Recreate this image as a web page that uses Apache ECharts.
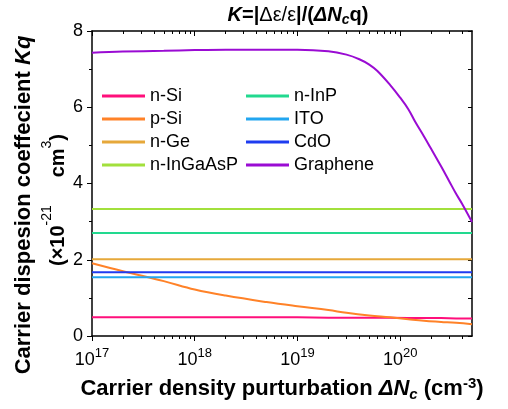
<!DOCTYPE html>
<html>
<head>
<meta charset="utf-8">
<script src="https://cdn.jsdelivr.net/npm/echarts@6/dist/echarts.min.js"></script>
<style>
  html, body { margin: 0; padding: 0; background: #fff; }
  #main { width: 508px; height: 409px; }
</style>
</head>
<body>
<div id="main"></div>
<script>
// carrier density (cm^-3) samples
const density = [1e17, 2e17, 5e17, 1e18, 2e18, 5e18, 1e19, 2e19, 3e19, 5e19, 8e19, 1.2e20, 1.7e20, 2.5e20, 3.5e20, 5e20];
const pSi = [1.91, 1.70, 1.44, 1.22, 1.06, 0.89, 0.78, 0.68, 0.61, 0.54, 0.49, 0.44, 0.40, 0.37, 0.345, 0.31];
const nSi = [0.49, 0.49, 0.49, 0.49, 0.49, 0.49, 0.49, 0.48, 0.48, 0.48, 0.48, 0.47, 0.47, 0.47, 0.46, 0.46];
// graphene needs more samples in the roll-off
const grapheneDensity = [1e17, 2e17, 5e17, 1e18, 2e18, 5e18, 1e19, 2e19, 3e19, 4e19, 5e19, 6e19, 8e19, 1e20, 1.2e20, 1.4e20, 1.7e20, 2e20, 2.5e20, 3e20, 3.5e20, 4e20, 5e20];
const graphene = [7.43, 7.46, 7.48, 7.50, 7.51, 7.51, 7.51, 7.47, 7.38, 7.26, 7.12, 6.95, 6.58, 6.25, 5.95, 5.62, 5.24, 4.91, 4.45, 4.06, 3.73, 3.47, 2.99];
// flat lines: value at both ends
const ends = [1e17, 5e20];
const nGe = [2.01, 2.01];
const nInGaAsP = [3.33, 3.33];
const nInP = [2.70, 2.70];
const ito = [1.54, 1.54];
const cdo = [1.67, 1.67];

const majorTicks = [1e17, 1e18, 1e19, 1e20];
const minorTicks = [];
majorTicks.forEach(function (d) {
  for (let k = 2; k <= 9; k++) {
    if (k * d <= 5e20) minorTicks.push(k * d);
  }
});

const FONT = '"Liberation Sans", Arial, sans-serif';

function pairs(xs, ys) {
  return xs.map(function (x, i) { return [x, ys[i]]; });
}

const chart = echarts.init(document.getElementById('main'), null, { renderer: 'canvas' });

function line(name, color, xs, ys, smooth) {
  return {
    name: name,
    type: 'line',
    data: pairs(xs, ys),
    smooth: smooth ? 0.4 : false,
    showSymbol: false,
    symbol: 'none',
    lineStyle: { color: color, width: 2 },
    itemStyle: { color: color },
    xAxisIndex: 0,
    yAxisIndex: 0
  };
}

function logAxis(pos, ticks, len, inside, extra) {
  return Object.assign({
    type: 'log',
    logBase: 10,
    position: pos,
    min: 1e17,
    max: 5e20,
    splitLine: { show: false },
    axisLine: { show: true, lineStyle: { color: '#000', width: 1.5 } },
    axisTick: { show: true, inside: inside, length: len, customValues: ticks, lineStyle: { color: '#000', width: 1 } },
    axisLabel: { show: false }
  }, extra || {});
}

const legendText = { fontFamily: FONT, fontSize: 18, color: '#000' };

const option = {
  animation: false,
  backgroundColor: '#fff',
  grid: { left: 92, right: 36, top: 31, bottom: 73 },
  legend: [
    {
      data: ['n-Si', 'p-Si', 'n-Ge', 'n-InGaAsP'],
      orient: 'vertical', left: 97, top: 82, itemGap: 5,
      itemWidth: 43, itemHeight: 3, icon: 'rect',
      textStyle: legendText
    },
    {
      data: ['n-InP', 'ITO', 'CdO', 'Graphene'],
      orient: 'vertical', left: 241, top: 82, itemGap: 5,
      itemWidth: 43, itemHeight: 3, icon: 'rect',
      textStyle: legendText
    }
  ],
  xAxis: [
    logAxis('bottom', majorTicks, 5, false, {
      axisLabel: {
        show: true,
        customValues: majorTicks,
        margin: 11,
        fontFamily: FONT,
        fontSize: 18,
        color: '#000',
        formatter: function (v) {
          return '{b|10}{sup|' + Math.round(Math.log10(v)) + '}';
        },
        rich: {
          b: { fontFamily: FONT, fontSize: 18, color: '#000', lineHeight: 22, verticalAlign: 'bottom' },
          sup: { fontFamily: FONT, fontSize: 13, color: '#000', lineHeight: 12, verticalAlign: 'top' }
        }
      },
      name: '{b|Carrier density purturbation }{i|ΔN}{sub|c}{b| (cm}{sup|-3}{b|)}',
      nameLocation: 'middle',
      nameGap: 40,
      nameTextStyle: {
        rich: {
          b: { fontFamily: FONT, fontSize: 22, fontWeight: 'bold', color: '#000', lineHeight: 26, verticalAlign: 'middle' },
          i: { fontFamily: FONT, fontSize: 22, fontWeight: 'bold', fontStyle: 'italic', color: '#000', lineHeight: 26, verticalAlign: 'middle' },
          sub: { fontFamily: FONT, fontSize: 15, fontWeight: 'bold', fontStyle: 'italic', color: '#000', lineHeight: 12, verticalAlign: 'bottom' },
          sup: { fontFamily: FONT, fontSize: 15, fontWeight: 'bold', color: '#000', lineHeight: 12, verticalAlign: 'top' }
        }
      }
    }),
    logAxis('bottom', minorTicks, 3, false, { axisLine: { show: false } }),
    logAxis('top', majorTicks, 5, true),
    logAxis('top', minorTicks, 3, true, { axisLine: { show: false } })
  ],
  yAxis: [
    {
      type: 'value',
      position: 'left',
      min: 0, max: 8, interval: 2,
      splitLine: { show: false },
      axisLine: { show: true, lineStyle: { color: '#000', width: 1.5 } },
      axisTick: { show: true, length: 5, lineStyle: { color: '#000' } },
      minorTick: { show: true, splitNumber: 2, length: 3, lineStyle: { color: '#000' } },
      axisLabel: { fontFamily: FONT, fontSize: 18, color: '#000', margin: 9 }
    },
    {
      type: 'value',
      position: 'right',
      min: 0, max: 8, interval: 1,
      splitLine: { show: false },
      axisLine: { show: true, lineStyle: { color: '#000', width: 1.5 } },
      axisTick: { show: true, inside: true, length: 4, lineStyle: { color: '#000' } },
      axisLabel: { show: false }
    }
  ],
  graphic: [
    {
      type: 'text',
      x: 298, y: 15,
      style: {
        text: '{bi|K}{b|=|}{n|Δε/ε}{b||/(}{bi|ΔN}{sub|c}{b|q)}',
        align: 'center', verticalAlign: 'middle',
        rich: {
          b: { fontFamily: FONT, fontSize: 20, fontWeight: 'bold', fill: '#000', lineHeight: 24, verticalAlign: 'middle' },
          bi: { fontFamily: FONT, fontSize: 20, fontWeight: 'bold', fontStyle: 'italic', fill: '#000', lineHeight: 24, verticalAlign: 'middle' },
          n: { fontFamily: FONT, fontSize: 20, fill: '#000', lineHeight: 24, verticalAlign: 'middle' },
          sub: { fontFamily: FONT, fontSize: 14, fontWeight: 'bold', fontStyle: 'italic', fill: '#000', lineHeight: 10, verticalAlign: 'bottom' }
        }
      }
    },
    {
      type: 'text',
      x: 24, y: 205,
      rotation: Math.PI / 2,
      style: {
        text: '{b|Carrier dispesion coeffecient }{bi|Kq}',
        align: 'center', verticalAlign: 'middle',
        rich: {
          b: { fontFamily: FONT, fontSize: 22, fontWeight: 'bold', fill: '#000' },
          bi: { fontFamily: FONT, fontSize: 22, fontWeight: 'bold', fontStyle: 'italic', fill: '#000' }
        }
      }
    },
    {
      type: 'text',
      x: 54, y: 200,
      rotation: Math.PI / 2,
      style: {
        text: '{b|(×10}{sup|-21}{b|     cm}{sup|3}{b|)}',
        align: 'center', verticalAlign: 'middle',
        rich: {
          b: { fontFamily: FONT, fontSize: 20, fontWeight: 'bold', fill: '#000', lineHeight: 28, verticalAlign: 'bottom' },
          sup: { fontFamily: FONT, fontSize: 14, fill: '#000', lineHeight: 12, verticalAlign: 'top' }
        }
      }
    }
  ],
  series: [
    line('n-Si', '#ff0f7b', density, nSi, false),
    line('p-Si', '#ff8228', density, pSi, true),
    line('n-Ge', '#e6a83a', ends, nGe, false),
    line('n-InGaAsP', '#a2e03c', ends, nInGaAsP, false),
    line('n-InP', '#22d98f', ends, nInP, false),
    line('ITO', '#22a6f0', ends, ito, false),
    line('CdO', '#1e3cf0', ends, cdo, false),
    line('Graphene', '#9a0bd3', grapheneDensity, graphene, true)
  ]
};

chart.setOption(option);
</script>
</body>
</html>
